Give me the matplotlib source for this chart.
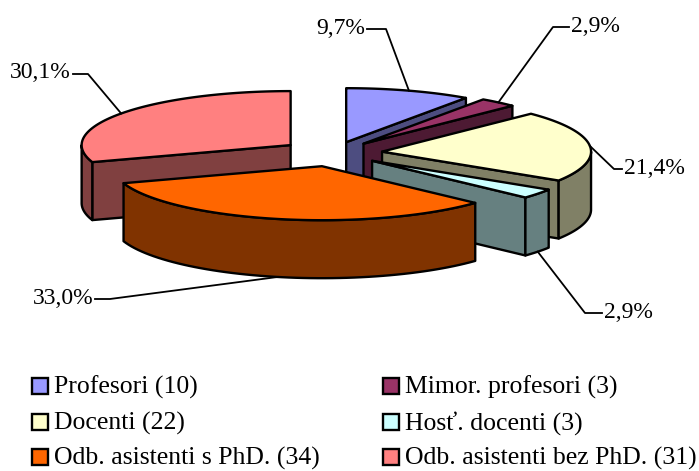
import numpy as np
import matplotlib
matplotlib.use('Agg')
import matplotlib.pyplot as plt
from matplotlib.patches import Polygon, Rectangle

plt.rcParams['font.family'] = ['Liberation Serif', 'DejaVu Serif']

categories = ['Profesori (10)', 'Mimor. profesori (3)', 'Docenti (22)',
              'Hosť. docenti (3)', 'Odb. asistenti s PhD. (34)', 'Odb. asistenti bez PhD. (31)']
counts = [10, 3, 22, 3, 34, 31]
percent_labels = ['9,7%', '2,9%', '21,4%', '2,9%', '33,0%', '30,1%']

colors = ['#9999FF', '#993366', '#FFFFCC', '#CCFFFF', '#FF6600', '#FF8080']
side_colors = ['#4D4D80', '#4D1A33', '#808066', '#668080', '#803300', '#804040']

# pie geometry in image pixels (tilted ellipse + wall height)
CX, CY = 333, 153
RX, RY = 209, 54
DEPTH = 58
explode = [0.21, 0.226, 0.236, 0.236, 0.25, 0.25]
draw_order = [5, 0, 1, 2, 3, 4]

# label layout: text anchor (x, y, ha) and elbow x of the leader line
label_pos = [(365, 28, 'right', 386), (571, 26, 'left', 553), (624, 168, 'left', 614),
             (604, 312, 'left', 585), (93, 298, 'right', 110), (71, 73, 'right', 88)]

# legend layout: two columns, three rows
legend_x = [32, 383]
legend_baseline = [394, 430, 465]
KEY = 16


def ell(theta, x0, y0):
    # theta in degrees, clockwise from 12 o'clock
    t = np.radians(theta)
    return x0 + RX * np.sin(t), y0 - RY * np.cos(t)


def wall(ax, th1, th2, x0, y0, color):
    th = np.linspace(th1, th2, 60)
    xs, ys = ell(th, x0, y0)
    pts = list(zip(xs, ys)) + list(zip(xs[::-1], ys[::-1] + DEPTH))
    ax.add_patch(Polygon(pts, closed=True, fc=color, ec='black', lw=1.7, joinstyle='round'))


def cut_face(ax, th, x0, y0, color):
    x1, y1 = ell(th, x0, y0)
    pts = [(x0, y0), (x1, y1), (x1, y1 + DEPTH), (x0, y0 + DEPTH)]
    ax.add_patch(Polygon(pts, closed=True, fc=color, ec='black', lw=1.7, joinstyle='round'))


fig = plt.figure(figsize=(6.99, 4.71), dpi=100)
ax = fig.add_axes([0, 0, 1, 1])
ax.set_xlim(0, 699)
ax.set_ylim(471, 0)
ax.axis('off')

edges = np.concatenate([[0], np.cumsum(counts) / np.sum(counts) * 360])

for i in draw_order:
    th1, th2 = edges[i], edges[i + 1]
    mid = (th1 + th2) / 2
    m = np.radians(mid)
    x0 = CX + explode[i] * RX * np.sin(m)
    y0 = CY - explode[i] * RY * np.cos(m)

    # walls that face the viewer
    if th1 >= 180:
        cut_face(ax, th1, x0, y0, side_colors[i])
    if th2 <= 180:
        cut_face(ax, th2, x0, y0, side_colors[i])
    lo, hi = max(th1, 90), min(th2, 270)
    if lo < hi:
        wall(ax, lo, hi, x0, y0, side_colors[i])

    # top
    th = np.linspace(th1, th2, 80)
    xs, ys = ell(th, x0, y0)
    pts = [(x0, y0)] + list(zip(xs, ys))
    ax.add_patch(Polygon(pts, closed=True, fc=colors[i], ec='black', lw=1.7, joinstyle='round'))

    # leader line and percent label
    tx, ty, ha, elbow = label_pos[i]
    ax_, ay_ = ell(mid, x0, y0)
    if 90 < mid < 270:
        ay_ += DEPTH
    lx = tx + 2 if ha == 'right' else tx - 2
    ax.plot([lx, elbow, ax_], [ty + 1, ty + 1, ay_], color='black', lw=1.3, zorder=1)
    ax.text(tx, ty, percent_labels[i], ha=ha, va='center', fontsize=17)

# legend, filled row by row like the original
for i, name in enumerate(categories):
    col, row = i % 2, i // 2
    kx, base = legend_x[col], legend_baseline[row]
    ax.add_patch(Rectangle((kx, base - KEY), KEY, KEY, fc=colors[i], ec='black', lw=1.7))
    ax.text(kx + KEY + 6, base, name, ha='left', va='baseline', fontsize=18.5)

fig.savefig('out.png', dpi=100)
